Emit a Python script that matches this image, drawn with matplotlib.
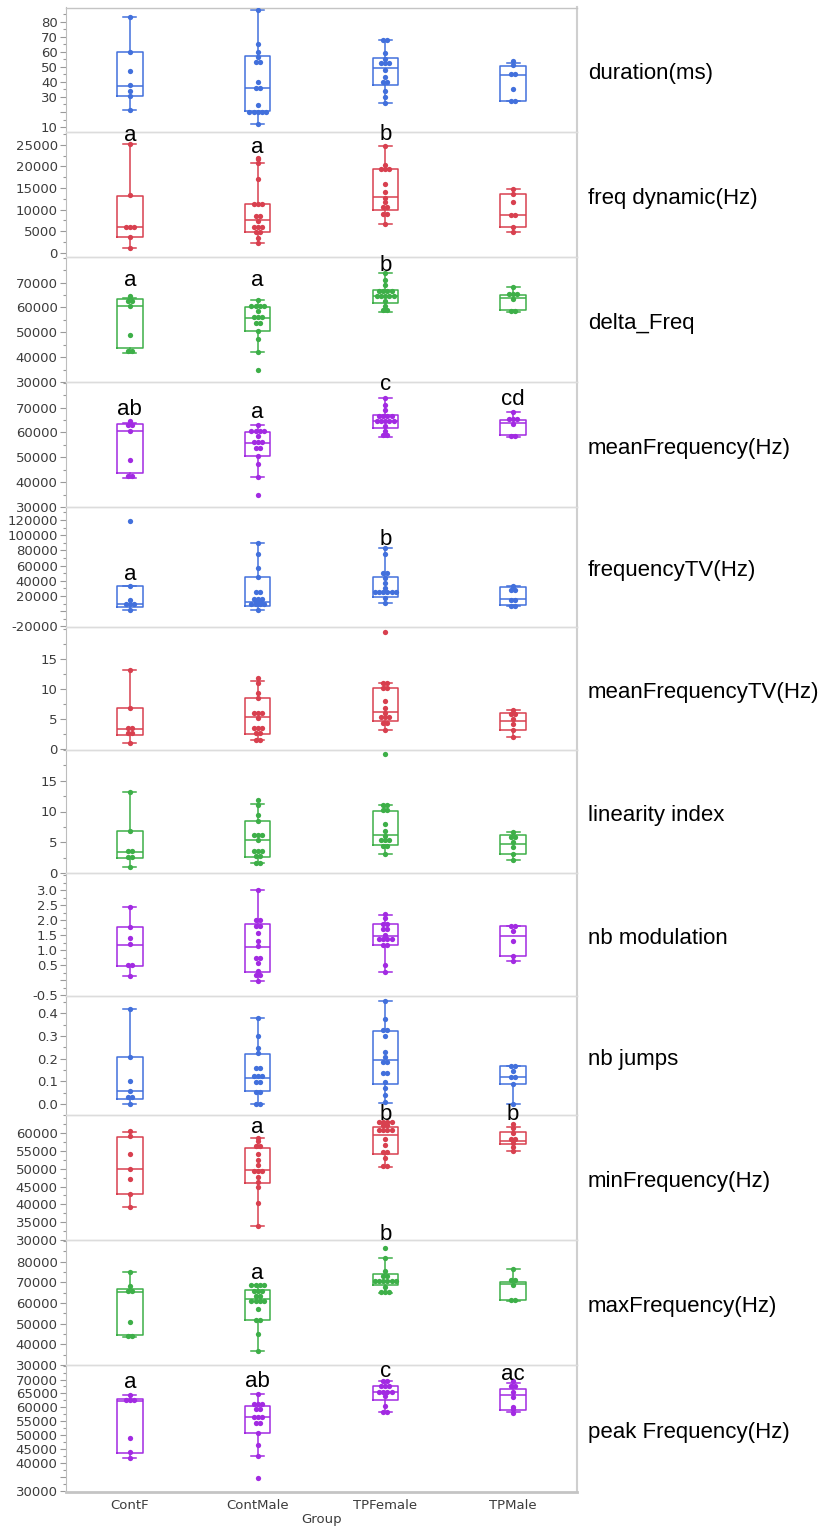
import numpy as np
import matplotlib
matplotlib.use("Agg")
import matplotlib.pyplot as plt
from matplotlib.ticker import AutoMinorLocator

groups = ['ContF', 'ContMale', 'TPFemale', 'TPMale']
colors = ['#4270dc', '#d8404f', '#3daf48', '#a22ae2']

# ---- duration(ms)
dur_pts = [[83, 60, 47, 38, 34, 30.5, 21],
           [88, 65, 60, 56.5, 53, 53, 40, 36, 36, 24.5, 20, 20, 20, 20, 20, 12],
           [68, 68, 59, 55.5, 52.5, 52.5, 52.5, 48, 43.5, 40, 40, 34, 30, 26],
           [54, 51, 45.5, 45.5, 35.5, 27, 27]]
# box stats per group: low whisker, q1, median, q3, high whisker
dur_box = [[21, 30.5, 37.5, 60, 83], [12, 20.5, 36, 57, 88],
           [26, 38, 49.2, 56.2, 68], [27, 27.4, 44.5, 50.5, 52.5]]

# ---- freq dynamic(Hz)
fdyn_pts = [[25200, 13300, 6000, 6000, 6000, 3600, 1000],
            [22000, 21700, 20900, 17200, 11300, 11300, 11300, 8400, 8400, 7300,
             6000, 6000, 6000, 4700, 4700, 3300, 2200],
            [24800, 20400, 19300, 19300, 19300, 16000, 14000, 12800, 11700, 10600,
             10600, 9000, 9000, 6700],
            [14800, 13700, 11800, 8800, 8800, 6000, 4800]]
fdyn_box = [[1000, 3600, 6000, 13200, 25200], [2200, 4800, 7500, 11300, 20800],
            [6700, 9900, 13000, 19500, 24800], [4800, 6000, 8800, 13500, 14800]]

# ---- delta_Freq
delta_pts = [[64600, 62700, 62700, 60700, 48900, 42400, 42400],
             [62900, 60700, 60700, 60700, 60700, 58500, 56200, 56200, 56200, 53700,
              53700, 50600, 47300, 42200, 35000],
             [74000, 70900, 69000, 66800, 66800, 66800, 66800, 64700, 64700, 64700,
              64700, 64700, 62700, 60700, 58800, 58800],
             [68400, 65500, 65500, 65500, 63500, 58700, 58700]]
delta_box = [[41800, 43500, 60500, 63400, 63700], [42200, 50700, 55600, 60000, 62900],
             [58000, 61600, 64800, 67200, 74000], [58000, 58800, 63900, 65200, 68400]]

# ---- meanFrequency(Hz) (reads identical to delta_Freq in the figure)
meanf_pts = [[64800, 62800, 62800, 60700, 49000, 42600, 42600],
             [62900, 60700, 60700, 60700, 60700, 58500, 56200, 56200, 56200, 53700,
              53700, 50600, 47300, 42200, 35000],
             [74000, 70900, 69000, 66800, 66800, 66800, 66800, 64700, 64700, 64700,
              64700, 64700, 62700, 60700, 58800, 58800],
             [68400, 65500, 65500, 65500, 63500, 58700, 58700]]
meanf_box = [[41800, 43500, 60500, 63400, 63700], [42200, 50700, 55600, 60000, 62900],
             [58000, 61600, 64800, 67200, 74000], [58000, 58800, 63900, 65200, 68400]]

# ---- frequencyTV(Hz)
ftv_pts = [[118700, 33200, 14700, 9000, 9000, 9000, 1100],
           [89300, 75300, 56400, 45000, 25700, 25700, 16000, 16000, 16000, 12000,
            12000, 9500, 9500, 9500, 9500, 1100],
           [82700, 75300, 49800, 49800, 44100, 37100, 30500, 24800, 24800, 24800,
            24800, 24800, 24800, 17800, 10800],
           [33600, 27500, 27500, 14700, 14700, 7300, 7300]]
ftv_box = [[1100, 5500, 9900, 33200, 33200], [1100, 7300, 11700, 45000, 89300],
           [11200, 18700, 24800, 45000, 82700], [6400, 8200, 16500, 31800, 33600]]

# ---- meanFrequencyTV(Hz)
mftv_pts = [[13.1, 6.85, 3.5, 3.5, 2.65, 2.65, 1.05],
            [11.9, 11.05, 9.35, 8.5, 6.1, 6.1, 6.1, 5.2, 3.5, 3.5, 3.5, 2.65, 2.65, 1.5, 1.5],
            [19.5, 11.0, 11.0, 10.2, 10.2, 8.0, 6.85, 6.0, 5.3, 5.3, 5.3, 4.4, 4.4, 3.15],
            [6.6, 5.85, 5.85, 5.0, 4.2, 3.15, 2.05]]
mftv_box = [[1.05, 2.43, 3.37, 6.85, 13.1], [1.5, 2.55, 5.35, 8.5, 11.3],
            [3.15, 4.65, 6.2, 10.15, 11.0], [2.05, 3.15, 4.75, 6.1, 6.6]]

# ---- linearity index
lin_pts = [[13.1, 6.85, 3.5, 3.5, 2.65, 2.65, 1.05],
           [11.8, 11.0, 9.35, 8.5, 6.1, 6.1, 6.1, 5.3, 3.5, 3.5, 3.5, 2.7, 2.7, 1.6, 1.6],
           [19.3, 11.0, 11.0, 10.2, 10.2, 8.0, 6.85, 6.0, 5.3, 5.3, 5.3, 4.4, 4.4, 3.15],
           [6.6, 5.85, 5.85, 5.0, 4.2, 3.15, 2.05]]
lin_box = [[1.05, 2.43, 3.37, 6.85, 13.1], [1.6, 2.6, 5.3, 8.5, 11.2],
           [3.15, 4.6, 6.2, 10.15, 11.0], [2.05, 3.15, 4.75, 6.1, 6.6]]

# ---- nb modulation
nbmod_pts = [[2.44, 1.77, 1.41, 1.2, 0.52, 0.52, 0.14],
             [3.0, 2.01, 2.01, 1.82, 1.82, 1.59, 1.30, 1.13, 0.76, 0.76, 0.58, 0.32,
              0.17, 0.17, -0.03],
             [2.21, 2.06, 1.88, 1.88, 1.70, 1.70, 1.52, 1.36, 1.36, 1.36, 1.36, 1.17,
              1.17, 0.5, 0.27],
             [1.82, 1.82, 1.64, 1.32, 0.81, 0.64]]
nbmod_box = [[0.14, 0.47, 1.19, 1.76, 2.44], [-0.03, 0.29, 1.12, 1.87, 3.0],
             [0.27, 1.16, 1.46, 1.86, 2.18], [0.64, 0.80, 1.46, 1.82, 1.82]]

# ---- nb jumps
jump_pts = [[0.418, 0.209, 0.1, 0.056, 0.032, 0.032, 0.0],
            [0.378, 0.30, 0.249, 0.226, 0.159, 0.159, 0.122, 0.122, 0.122, 0.096,
             0.096, 0.051, 0.051, 0.0, 0.0],
            [0.454, 0.375, 0.328, 0.328, 0.30, 0.231, 0.207, 0.185, 0.185, 0.137,
             0.137, 0.099, 0.071, 0.04, 0.01],
            [0.168, 0.168, 0.146, 0.118, 0.118, 0.087, 0.0]]
jump_box = [[0.0, 0.021, 0.056, 0.209, 0.418], [0.0, 0.059, 0.113, 0.222, 0.378],
            [0.006, 0.090, 0.193, 0.322, 0.454], [0.0, 0.09, 0.118, 0.168, 0.168]]

# ---- minFrequency(Hz)
minf_pts = [[60700, 59200, 54100, 50000, 47200, 42900, 39300],
            [58600, 57700, 56300, 56300, 54100, 52500, 51100, 49500, 49500, 49500,
             47800, 46400, 45000, 40300, 34000],
            [63100, 63100, 63100, 63100, 62300, 62300, 60900, 60900, 60900, 60900,
             58400, 56700, 54700, 54700, 52900, 50800, 50800],
            [62700, 61400, 60000, 58400, 58400, 57200, 56200, 55100]]
minf_box = [[39300, 42900, 50000, 58900, 60400], [34000, 46000, 49700, 55700, 58600],
            [50400, 54100, 59400, 61700, 63100], [55100, 57000, 57900, 60300, 61800]]

# ---- maxFrequency(Hz)
maxf_pts = [[75000, 68000, 65800, 65800, 50800, 44200, 44200],
            [68500, 68500, 68500, 68500, 66000, 66000, 66000, 63500, 63500, 61100,
             61100, 61100, 61100, 57100, 51600, 51600, 45200, 36900],
            [86400, 81800, 75500, 73200, 73200, 70700, 70700, 70700, 70700, 70700,
             70700, 67900, 65500, 65500, 65500],
            [76600, 71100, 71100, 68500, 61500, 61500]]
maxf_box = [[43700, 44400, 65500, 66900, 75000], [36900, 51600, 61800, 66100, 68500],
            [65000, 68500, 70800, 74200, 81800], [61000, 61500, 69000, 70300, 76600]]

# ---- peak Frequency(Hz)
peak_pts = [[64600, 62800, 62800, 62800, 48900, 44000, 42000],
            [64800, 61300, 61300, 61300, 59500, 59500, 56600, 56600, 56600, 54300,
             54300, 51000, 46700, 42600, 34600],
            [69400, 69400, 67600, 67600, 67600, 65500, 65500, 65500, 65500, 64000,
             60500, 58500, 58500],
            [69300, 67600, 67600, 65700, 63700, 60100, 59400, 58000]]
peak_box = [[42000, 43500, 62300, 63000, 64600], [42600, 51000, 56600, 60500, 64800],
            [58500, 62800, 65500, 67500, 69400], [58200, 59200, 64600, 66500, 68600]]

titles = ['duration(ms)', 'freq dynamic(Hz)', 'delta_Freq', 'meanFrequency(Hz)',
          'frequencyTV(Hz)', 'meanFrequencyTV(Hz)', 'linearity index', 'nb modulation',
          'nb jumps', 'minFrequency(Hz)', 'maxFrequency(Hz)', 'peak Frequency(Hz)']

all_pts = [dur_pts, fdyn_pts, delta_pts, meanf_pts, ftv_pts, mftv_pts, lin_pts,
           nbmod_pts, jump_pts, minf_pts, maxf_pts, peak_pts]
all_box = [dur_box, fdyn_box, delta_box, meanf_box, ftv_box, mftv_box, lin_box,
           nbmod_box, jump_box, minf_box, maxf_box, peak_box]

ylims = [(6.7, 89.5), (-1000, 28000), (30100, 80300), (30100, 80300),
         (-20800, 137000), (-0.1, 20.3), (0, 20.0), (-0.52, 3.57),
         (-0.049, 0.477), (30000, 65100), (30000, 90500), (29700, 75200)]

yticks = [[10, 20, 30, 40, 50, 60, 70, 80],
          [0, 5000, 10000, 15000, 20000, 25000],
          [30000, 40000, 50000, 60000, 70000],
          [30000, 40000, 50000, 60000, 70000],
          [-20000, 0, 20000, 40000, 60000, 80000, 100000, 120000],
          [0, 5, 10, 15],
          [0, 5, 10, 15],
          [-0.5, 0, 0.5, 1.0, 1.5, 2.0, 2.5, 3.0],
          [0.0, 0.1, 0.2, 0.3, 0.4],
          [30000, 35000, 40000, 45000, 50000, 55000, 60000],
          [30000, 40000, 50000, 60000, 70000, 80000],
          [30000, 35000, 40000, 45000, 50000, 55000, 60000, 65000, 70000]]
yticklabels = [['10', '', '30', '40', '50', '60', '70', '80'],
               ['0', '5000', '10000', '15000', '20000', '25000'],
               ['30000', '40000', '50000', '60000', '70000'],
               ['30000', '40000', '50000', '60000', '70000'],
               ['-20000', '', '20000', '40000', '60000', '80000', '100000', '120000'],
               ['0', '5', '10', '15'],
               ['0', '5', '10', '15'],
               ['-0.5', '', '0.5', '1.0', '1.5', '2.0', '2.5', '3.0'],
               ['0.0', '0.1', '0.2', '0.3', '0.4'],
               ['30000', '35000', '40000', '45000', '50000', '55000', '60000'],
               ['30000', '40000', '50000', '60000', '70000', '80000'],
               ['30000', '', '40000', '45000', '50000', '55000', '60000', '65000', '70000']]

# significance letters: (panel, group, text, y)
letters = [(1, 0, 'a', 27200), (1, 1, 'a', 24300), (1, 2, 'b', 27400),
           (2, 0, 'a', 70900), (2, 1, 'a', 70900), (2, 2, 'b', 77000),
           (3, 0, 'ab', 69200), (3, 1, 'a', 67900), (3, 2, 'c', 79200), (3, 3, 'cd', 73200),
           (4, 0, 'a', 47600), (4, 2, 'b', 93700),
           (9, 1, 'a', 61700), (9, 2, 'b', 65300), (9, 3, 'b', 65300),
           (10, 1, 'a', 74400), (10, 2, 'b', 93400),
           (11, 0, 'a', 68800), (11, 1, 'ab', 69150), (11, 2, 'c', 72800), (11, 3, 'ac', 71900)]

W, H = 822, 1528
edges = [7.5, 132, 257, 382, 507, 627, 750, 873, 996, 1115, 1240, 1365, 1492]
left, right = 66, 577

fig = plt.figure(figsize=(W / 100, H / 100), dpi=100)
fig.patch.set_facecolor('white')

axes = []
for i in range(12):
    y0, y1 = edges[i], edges[i + 1]
    ax = fig.add_axes([left / W, 1 - y1 / H, (right - left) / W, (y1 - y0) / H])
    ax.set_facecolor('none')
    axes.append(ax)

positions = np.arange(len(groups))
spacing = 0.032

for i, ax in enumerate(axes):
    col_pts = all_pts[i]
    boxes = all_box[i]
    for g in range(len(groups)):
        c = colors[i % 4]
        lo, q1, med, q3, hi = boxes[g]
        stats = [{'whislo': lo, 'q1': q1, 'med': med, 'q3': q3, 'whishi': hi, 'fliers': []}]
        lp = dict(color=c, linewidth=1.1)
        ax.bxp(stats, positions=[g], widths=0.2, showfliers=False,
               boxprops=lp, whiskerprops=lp, capprops=lp, medianprops=lp,
               manage_ticks=False)
        vals = col_pts[g]
        uniq = []
        for v in vals:
            if v not in uniq:
                uniq.append(v)
        for v in uniq:
            n = vals.count(v)
            xs = g + (np.arange(n) - (n - 1) / 2) * spacing
            ax.plot(xs, [v] * n, 'o', color=c, ms=3.8, mec='none', zorder=4)
    ax.set_xlim(-0.5, 3.5)
    ax.set_ylim(*ylims[i])
    ax.set_yticks(yticks[i])
    ax.set_yticklabels(yticklabels[i])
    ax.yaxis.set_minor_locator(AutoMinorLocator(2))
    ax.tick_params(axis='y', which='major', direction='out', length=4, width=0.8,
                   color='#9a9a9a', labelcolor='#3c3c3c', labelsize=9.5, pad=2)
    ax.tick_params(axis='y', which='minor', direction='out', length=2.5, width=0.8,
                   color='#9a9a9a')
    ax.set_xticks(positions)
    if i == 11:
        ax.set_xticklabels(groups)
        ax.tick_params(axis='x', length=0, labelsize=9.5, labelcolor='#3c3c3c', pad=5)
        ax.set_xlabel('Group', fontsize=9.5, color='#3c3c3c', labelpad=1)
    else:
        ax.tick_params(axis='x', length=0, labelbottom=False)
    for s in ['top', 'bottom']:
        ax.spines[s].set_color('#dcdcdc')
        ax.spines[s].set_linewidth(1.0)
    ax.spines['left'].set_color('#bdbdbd')
    ax.spines['right'].set_color('#cfcfcf')
    ax.spines['right'].set_linewidth(1.5)
    if i == 11:
        ax.spines['bottom'].set_color('#c4c4c4')
        ax.spines['bottom'].set_linewidth(2)
    if i == 0:
        ax.spines['top'].set_color('#c4c4c4')
    ax.text(1.0215, 0.47, titles[i], transform=ax.transAxes, ha='left', va='center',
            fontsize=16, family='Liberation Sans', color='black')

for p, g, txt, y in letters:
    axes[p].text(g, y, txt, ha='center', va='center', fontsize=16,
                 family='Liberation Sans', color='black', clip_on=False, zorder=10)

fig.savefig('out.png', dpi=100, facecolor='white')
